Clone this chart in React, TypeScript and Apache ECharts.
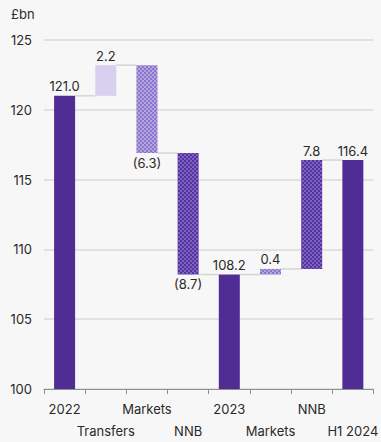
import React, { useEffect, useRef } from "react";
import * as echarts from "echarts";

const categories = ["2022", "Transfers", "Markets", "NNB", "2023", "Markets", "NNB", "H1 2024"];
const values = [121.0, 2.2, -6.3, -8.7, 108.2, 0.4, 7.8, 116.4];
const isTotal = [true, false, false, false, true, false, false, true];
const kinds = ["total", "transfers", "markets", "nnb", "total", "markets", "nnb", "total"];
const yTicks = [100, 105, 110, 115, 120, 125];

const FONT = "Inter";

const colorOf: Record<string, string> = {
  total: "#4f2d95",
  transfers: "#d8d0ef",
  markets: "#8b74cb",
  nnb: "#5434a3",
};

const decalOf: Record<string, any> = {
  markets: {
    symbol: "rect",
    symbolSize: 1,
    color: "rgba(255,255,255,0.35)",
    dashArrayX: [[1.5, 1.5], [0, 1.5, 1.5, 0]],
    dashArrayY: [1.5, 0],
    rotation: 0,
  },
  nnb: {
    symbol: "rect",
    symbolSize: 1,
    color: "rgba(200,185,240,0.35)",
    dashArrayX: [[1.5, 1.5], [0, 1.5, 1.5, 0]],
    dashArrayY: [1.5, 0],
    rotation: 0,
  },
};

function fmt(v: number) {
  const s = Math.abs(v).toFixed(1);
  return v < 0 ? `(${s})` : s;
}

export default function App() {
  const ref = useRef<HTMLDivElement>(null);
  useEffect(() => {
    if (!ref.current) return;
    const chart = echarts.init(ref.current, null, { renderer: "svg" });

    const bases: number[] = [];
    const heights: number[] = [];
    const levels: number[] = [];
    let run = 0;
    values.forEach((v, i) => {
      if (isTotal[i]) {
        bases.push(0);
        heights.push(v);
        run = v;
      } else if (v >= 0) {
        bases.push(run);
        heights.push(v);
        run = run + v;
      } else {
        bases.push(run + v);
        heights.push(-v);
        run = run + v;
      }
      levels.push(Math.round(run * 10) / 10);
    });

    const connectorData = levels.slice(0, -1).map((lv, i) => [i, lv]);
    const BW = 21;

    chart.setOption({
      animation: false,
      backgroundColor: "#f7f7f7",
      grid: { left: 44, right: 3, top: 40, bottom: 47 },
      graphic: [
        {
          type: "text",
          left: 11,
          top: 7,
          style: { text: "£bn", fontSize: 13, fontFamily: FONT, fill: "#2a2a2a" },
        },
      ],
      xAxis: {
        type: "category",
        data: categories,
        axisLine: { lineStyle: { color: "#8f8f8f", width: 1 } },
        axisTick: { show: true, length: 5, lineStyle: { color: "#8f8f8f" } },
        axisLabel: {
          interval: 0,
          fontSize: 13,
          fontFamily: FONT,
          color: "#2a2a2a",
          margin: 9,
          lineHeight: 22,
          formatter: (val: string, idx: number) => (idx % 2 === 1 ? "\n" + val : val),
        },
      },
      yAxis: {
        type: "value",
        min: yTicks[0],
        max: yTicks[yTicks.length - 1],
        interval: 5,
        axisLine: { show: false },
        axisTick: { show: false },
        axisLabel: { fontSize: 13, fontFamily: FONT, color: "#2a2a2a", margin: 12 },
        splitLine: { lineStyle: { color: "#dadada", width: 1.5 } },
      },
      series: [
        {
          type: "bar",
          stack: "wf",
          barWidth: BW,
          silent: true,
          itemStyle: { color: "transparent" },
          data: bases,
        },
        {
          type: "bar",
          stack: "wf",
          barWidth: BW,
          data: heights.map((h, i) => {
            const k = kinds[i];
            const item: any = {
              value: h,
              itemStyle: { color: colorOf[k] },
              label: {
                show: true,
                position: values[i] < 0 ? "bottom" : "top",
                distance: 3,
                formatter: fmt(values[i]),
                fontSize: 13,
                fontFamily: FONT,
                color: "#2a2a2a",
              },
            };
            if (decalOf[k]) item.itemStyle.decal = decalOf[k];
            return item;
          }),
        },
        {
          type: "custom",
          silent: true,
          z: 1,
          data: connectorData,
          renderItem: (params: any, api: any) => {
            const i = api.value(0);
            const lv = api.value(1);
            const p1 = api.coord([i, lv]);
            const p2 = api.coord([i + 1, lv]);
            return {
              type: "line",
              shape: { x1: p1[0] + BW / 2, y1: p1[1], x2: p2[0] - BW / 2, y2: p2[1] },
              style: { stroke: "#d4d4d4", lineWidth: 1.5 },
            };
          },
        },
      ],
    });
    return () => chart.dispose();
  }, []);
  return (
    <div
      ref={ref}
      style={{ position: "absolute", left: 0, top: 0, width: 381, height: 442 }}
    />
  );
}
